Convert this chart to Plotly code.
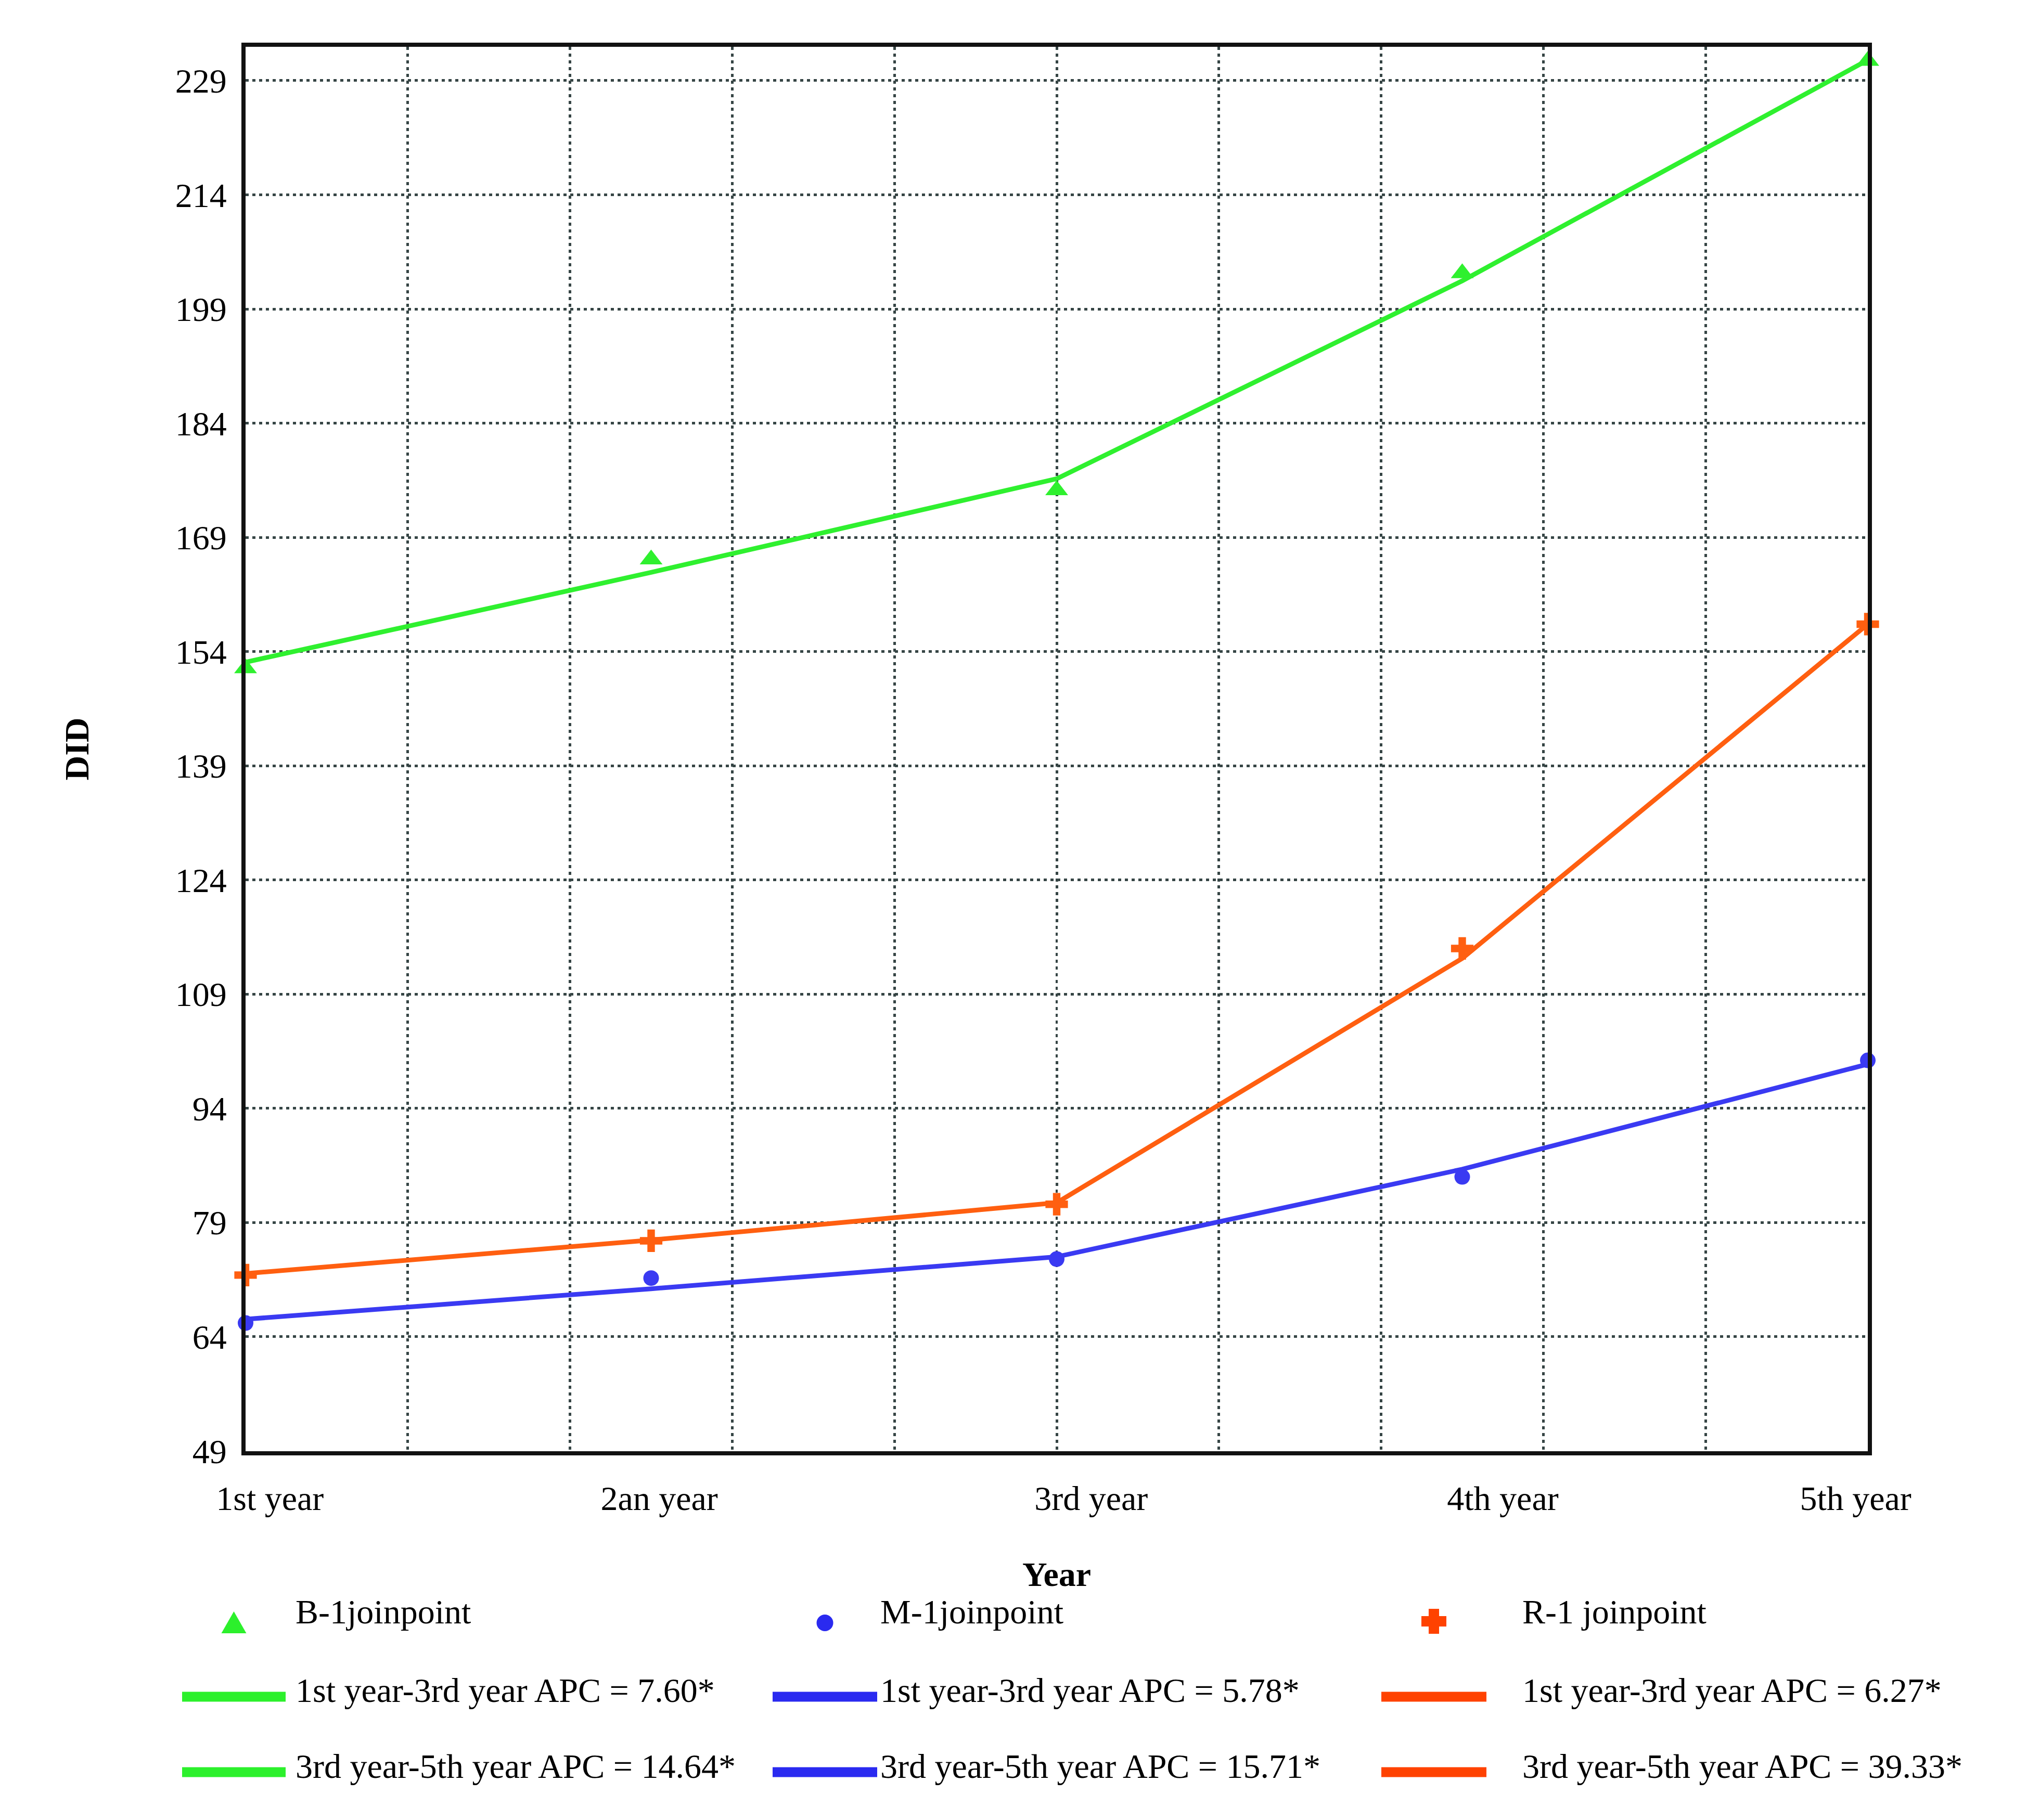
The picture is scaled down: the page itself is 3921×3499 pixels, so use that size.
import plotly.graph_objects as go

# ---------------- data ----------------
years = [1, 2, 3, 4, 5]
x_tick_pos = [1.06, 2.02, 3.085, 4.10, 4.97]
x_tick_text = ["1st year", "2an year", "3rd year", "4th year", "5th year"]
x_grid = [1.4, 1.8, 2.2, 2.6, 3.0, 3.4, 3.8, 4.2, 4.6]
y_ticks = [49, 64, 79, 94, 109, 124, 139, 154, 169, 184, 199, 214, 229]

b_obs = [151.8, 166.1, 175.2, 203.7, 231.6]
b_fit = [152.6, 164.4, 176.7, 202.7, 231.7]
m_obs = [65.8, 71.7, 74.2, 85.0, 100.3]
m_fit = [66.3, 70.3, 74.5, 86.0, 99.8]
r_obs = [72.1, 76.6, 81.4, 115.0, 157.6]
r_fit = [72.3, 76.7, 81.6, 113.7, 157.6]

marker_labels = ["B-1joinpoint", "M-1joinpoint", "R-1 joinpoint"]
seg1_labels = ["1st year-3rd year APC = 7.60*", "1st year-3rd year APC = 5.78*",
               "1st year-3rd year APC = 6.27*"]
seg2_labels = ["3rd year-5th year APC = 14.64*", "3rd year-5th year APC = 15.71*",
               "3rd year-5th year APC = 39.33*"]

# ---------------- style ----------------
FONT = "Liberation Serif"
FS = 66
plot_cols = ["#2ff02f", "#3a3af2", "#ff5f10"]
leg_cols = ["#2cf02c", "#2a2af0", "#ff4200"]
symbols = ["triangle-up", "circle", "cross"]
msizes = [38, 30, 36]
GRID = "#364545"

W, H = 3921, 3499
PL, PR, PT, PB = 472, 3590, 90, 2790
PW, PH = PR - PL, PB - PT


def px(x):
    return (x - PL) / PW


def py(y):
    return (PB - y) / PH


fig = go.Figure()
series = [(b_obs, b_fit), (m_obs, m_fit), (r_obs, r_fit)]
for i, (obs, fit) in enumerate(series):
    fig.add_trace(go.Scatter(x=years[:3], y=fit[:3], mode="lines",
                             line=dict(color=plot_cols[i], width=9),
                             showlegend=False, name=seg1_labels[i], cliponaxis=False))
    fig.add_trace(go.Scatter(x=years[2:], y=fit[2:], mode="lines",
                             line=dict(color=plot_cols[i], width=9),
                             showlegend=False, name=seg2_labels[i], cliponaxis=False))
    fig.add_trace(go.Scatter(x=years, y=obs, mode="markers",
                             marker=dict(symbol=symbols[i], size=msizes[i],
                                         color=plot_cols[i], line=dict(width=0)),
                             showlegend=False, name=marker_labels[i], cliponaxis=False))

# ---------------- custom legend ----------------
shapes = []
annotations = []
col_line_x = [(350, 549), (1485, 1686), (2655, 2857)]
col_text_x = [566, 1690, 2924]
row_text_y = [3099, 3249, 3395]
row_line_y = [None, 3262, 3407]
for i in range(3):
    x0, x1 = col_line_x[i]
    cx = (x0 + x1) / 2
    cy = 3120
    if i == 0:
        pts = [(cx, cy - 22), (cx - 24, cy + 20), (cx + 24, cy + 20)]
        path = "M " + " L ".join(f"{px(a):.5f},{py(b):.5f}" for a, b in pts) + " Z"
        shapes.append(dict(type="path", xref="paper", yref="paper", path=path,
                           fillcolor=leg_cols[i], line=dict(width=0)))
    elif i == 1:
        r = 16
        shapes.append(dict(type="circle", xref="paper", yref="paper",
                           x0=px(cx - r), x1=px(cx + r), y0=py(cy + r), y1=py(cy - r),
                           fillcolor=leg_cols[i], line=dict(width=0)))
    else:
        a, t = 24, 10
        cy = 3117
        pts = [(cx - t, cy - a), (cx + t, cy - a), (cx + t, cy - t), (cx + a, cy - t),
               (cx + a, cy + t), (cx + t, cy + t), (cx + t, cy + a), (cx - t, cy + a),
               (cx - t, cy + t), (cx - a, cy + t), (cx - a, cy - t), (cx - t, cy - t)]
        path = "M " + " L ".join(f"{px(p):.5f},{py(q):.5f}" for p, q in pts) + " Z"
        shapes.append(dict(type="path", xref="paper", yref="paper", path=path,
                           fillcolor=leg_cols[i], line=dict(width=0)))
    for rr in (1, 2):
        shapes.append(dict(type="line", xref="paper", yref="paper",
                           x0=px(x0), x1=px(x1), y0=py(row_line_y[rr]), y1=py(row_line_y[rr]),
                           line=dict(color=leg_cols[i], width=19)))
    texts = [marker_labels[i], seg1_labels[i], seg2_labels[i]]
    for rr in range(3):
        annotations.append(dict(xref="paper", yref="paper", x=px(col_text_x[i]),
                                y=py(row_text_y[rr]), text=texts[rr], showarrow=False,
                                xanchor="left", yanchor="middle",
                                font=dict(family=FONT, size=FS, color="black")))

fig.update_layout(
    width=W, height=H, autosize=False,
    margin=dict(l=PL, r=W - PR, t=PT, b=H - PB, pad=0),
    paper_bgcolor="white", plot_bgcolor="white",
    font=dict(family=FONT, size=FS, color="black"),
    showlegend=False,
    shapes=shapes, annotations=annotations,
)
fig.update_xaxes(
    range=[1, 5], tickmode="array", tickvals=x_tick_pos, ticktext=x_tick_text,
    showgrid=False, zeroline=False, ticks="", ticklabelstandoff=26,
    showline=True, linecolor="#111111", linewidth=8, mirror=True,
    minor=dict(tickmode="array", tickvals=x_grid, showgrid=True, gridcolor=GRID,
               gridwidth=5, griddash="6px,7px", ticks=""),
    title=dict(text="<b>Year</b>", font=dict(family=FONT, size=FS), standoff=90),
)
fig.update_yaxes(
    range=[48.96, 233.44], tickmode="array", tickvals=y_ticks,
    ticktext=[str(v) for v in y_ticks],
    showgrid=True, gridcolor=GRID, gridwidth=5, griddash="6px,7px",
    zeroline=False, ticks="", ticklabelstandoff=15,
    showline=True, linecolor="#111111", linewidth=8, mirror=True,
    title=dict(text="<b>DID</b>", font=dict(family=FONT, size=FS), standoff=148),
)

fig.write_html("out.html")
